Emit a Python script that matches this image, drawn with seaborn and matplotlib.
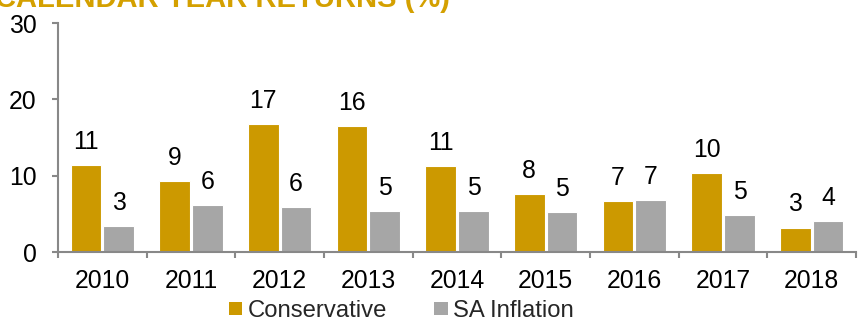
import matplotlib
matplotlib.use("Agg")
import matplotlib.pyplot as plt
import seaborn as sns
import pandas as pd
from matplotlib.patches import Patch

years = ["2010", "2011", "2012", "2013", "2014", "2015", "2016", "2017", "2018"]
conservative = [11.35, 9.25, 16.8, 16.5, 11.3, 7.6, 6.7, 10.4, 3.2]
sa_inflation = [3.45, 6.15, 5.85, 5.4, 5.35, 5.2, 6.85, 4.8, 4.1]
series_names = ["Conservative", "SA Inflation"]
colors = ["#CC9900", "#A6A6A6"]
title_text = "CALENDAR YEAR RETURNS (%)"

df = pd.DataFrame({
    "year": years * 2,
    "value": conservative + sa_inflation,
    "series": [series_names[0]] * len(years) + [series_names[1]] * len(years),
})

sns.set_theme(style="white")
plt.rcParams["font.family"] = ["Liberation Sans", "DejaVu Sans"]

FS = 17.8

fig = plt.figure(figsize=(8.61, 3.18), dpi=100)
ax = fig.add_axes([58 / 861, 1 - 252 / 318, (856 - 58) / 861, (252 - 23) / 318])

sns.barplot(data=df, x="year", y="value", hue="series", palette=colors,
            saturation=1, width=0.74, gap=0.06, edgecolor="white", linewidth=0.8,
            ax=ax, legend=False)

for cont in ax.containers:
    ax.bar_label(cont, labels=[f"{v:.0f}" for v in cont.datavalues],
                 padding=8, fontsize=FS, color="black")

ax.set_ylim(0, 30)
ax.set_xlim(-0.5, len(years) - 0.5)
ax.set_yticks([0, 10, 20, 30])
ax.set_xlabel("")
ax.set_ylabel("")

for s in ["top", "right"]:
    ax.spines[s].set_visible(False)
for s in ["left", "bottom"]:
    ax.spines[s].set_color("#888888")
    ax.spines[s].set_linewidth(1.5)

ax.tick_params(axis="y", which="major", length=4.5, width=1.5, color="#888888",
               labelsize=FS, labelcolor="black", pad=11, left=True, direction="out")
ax.tick_params(axis="x", which="major", length=0, labelsize=FS,
               labelcolor="black", pad=12)
ax.set_xticks([i - 0.5 for i in range(len(years) + 1)], minor=True)
ax.tick_params(axis="x", which="minor", length=4.5, width=1.5, color="#888888",
               bottom=True, direction="out")

handles = [Patch(facecolor=c, edgecolor="none", label=n) for c, n in zip(colors, series_names)]
fig.legend(handles=handles, loc="lower center", bbox_to_anchor=(0.466, -0.05),
           ncol=2, frameon=False, fontsize=17.2, handlelength=0.55,
           handleheight=0.5, handletextpad=0.22, columnspacing=2.0, borderpad=0.0)

fig.text(-0.006, 1 - 7 / 318, title_text, color="#D4A000", fontsize=21,
         fontweight="bold", ha="left", va="baseline")

fig.savefig("out.png", dpi=100)
